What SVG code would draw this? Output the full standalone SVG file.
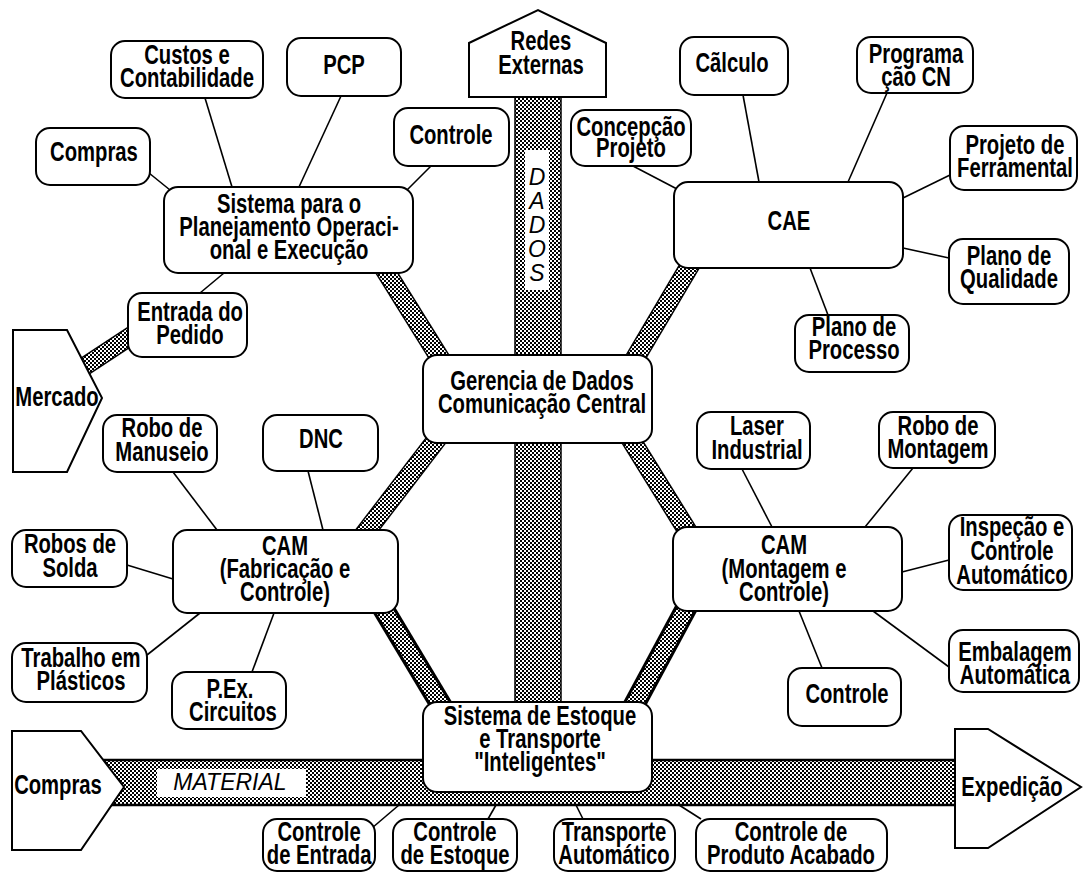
<svg xmlns="http://www.w3.org/2000/svg" width="1084" height="873" viewBox="0 0 1084 873">
  <defs>
    <pattern id="hatch" width="4" height="4" patternUnits="userSpaceOnUse">
      <rect width="4" height="4" fill="#fff"/>
      <rect width="2" height="2" fill="#000"/>
      <rect x="2" y="2" width="2" height="2" fill="#000"/>
    </pattern>
    <style>
      .box { fill: #fff; stroke: #000; stroke-width: 2; }
      .t { font-family: "Liberation Sans", Arial, sans-serif; font-weight: bold; font-size: 27px; text-anchor: middle; fill: #000;
           transform-box: fill-box; transform-origin: center; transform: scaleX(0.75); }
      .it { font-family: "Liberation Sans", Arial, sans-serif; font-style: italic; font-size: 23px; text-anchor: middle; fill: #000; }
      .link { stroke: #000; stroke-width: 1.6; fill: none; }
      .edge { stroke: #000; fill: none; }
      .fill { stroke: url(#hatch); fill: none; }
    </style>
  </defs>
  <rect width="1084" height="873" fill="#fff"/>

  <!-- thick data / material bands -->
  <g id="bands">
    <rect x="515" y="97" width="46" height="606" fill="url(#hatch)" stroke="#000" stroke-width="1.5"/>
    <rect x="525" y="150" width="24" height="140" fill="#fff"/>
    <text class="it" font-size="25"><tspan x="537" y="185">D</tspan><tspan x="537" y="209">A</tspan><tspan x="537" y="233">D</tspan><tspan x="537" y="257">O</tspan><tspan x="537" y="281">S</tspan></text>

    <!-- hub links to central data management -->
    <line class="edge" stroke-width="20" x1="375" y1="254" x2="451" y2="376"/>
    <line class="fill" stroke-width="17" x1="375" y1="254" x2="451" y2="376"/>
    <line class="edge" stroke-width="20" x1="702" y1="245" x2="624" y2="377"/>
    <line class="fill" stroke-width="17" x1="702" y1="245" x2="624" y2="377"/>
    <line class="edge" stroke-width="20" x1="450" y1="422" x2="352" y2="550"/>
    <line class="fill" stroke-width="17" x1="450" y1="422" x2="352" y2="550"/>
    <line class="edge" stroke-width="20" x1="620" y1="422" x2="698" y2="548"/>
    <line class="fill" stroke-width="17" x1="620" y1="422" x2="698" y2="548"/>

    <!-- production links to stock & transport -->
    <line class="edge" stroke-width="22" x1="372" y1="590" x2="450" y2="720"/>
    <line class="fill" stroke-width="16" x1="372" y1="590" x2="450" y2="720"/>
    <line class="edge" stroke-width="22" x1="696" y1="590" x2="626" y2="720"/>
    <line class="fill" stroke-width="16" x1="696" y1="590" x2="626" y2="720"/>

    <!-- market to order entry -->
    <line class="edge" stroke-width="19" x1="70" y1="376" x2="140" y2="330"/>
    <line class="fill" stroke-width="16" x1="70" y1="376" x2="140" y2="330"/>

    <!-- material flow -->
    <rect x="90" y="760" width="866" height="45" fill="url(#hatch)" stroke="#000" stroke-width="2.5"/>
    <rect x="157" y="769" width="149" height="28" fill="#fff"/>
    <text class="it" x="230" y="790">MATERIAL</text>
  </g>

  <!-- thin connectors -->
  <g id="connectors" class="link">
    <line x1="205" y1="98" x2="232" y2="187"/>
    <line x1="341" y1="96" x2="299" y2="187"/>
    <line x1="149" y1="173" x2="170" y2="190"/>
    <line x1="431" y1="166" x2="407" y2="190"/>
    <line x1="200" y1="293" x2="224" y2="273"/>
    <line x1="633" y1="166" x2="677" y2="189"/>
    <line x1="743" y1="95" x2="759" y2="182"/>
    <line x1="887" y1="93" x2="848" y2="182"/>
    <line x1="950" y1="175" x2="903" y2="198"/>
    <line x1="949" y1="258" x2="903" y2="248"/>
    <line x1="828" y1="315" x2="810" y2="268"/>
    <line x1="173" y1="472" x2="217" y2="530"/>
    <line x1="308" y1="471" x2="323" y2="530"/>
    <line x1="127" y1="565" x2="173" y2="579"/>
    <line x1="147" y1="655" x2="200" y2="613"/>
    <line x1="252" y1="672" x2="274" y2="613"/>
    <line x1="742" y1="469" x2="772" y2="527"/>
    <line x1="913" y1="468" x2="865" y2="527"/>
    <line x1="949" y1="560" x2="902" y2="572"/>
    <line x1="949" y1="667" x2="873" y2="611"/>
    <line x1="822" y1="668" x2="799" y2="611"/>
    <line x1="372" y1="828" x2="399" y2="805"/>
    <line x1="488" y1="819" x2="496" y2="805"/>
    <line x1="583" y1="819" x2="576" y2="805"/>
    <line x1="701" y1="819" x2="679" y2="805"/>
  </g>

  <!-- planning cluster -->
  <g id="custos"><rect class="box" x="111" y="41" width="152" height="57" rx="14"/><text class="t"><tspan x="187" y="64">Custos e</tspan><tspan x="187" y="87">Contabilidade</tspan></text></g>
  <g id="pcp"><rect class="box" x="287" y="38" width="114" height="58" rx="14"/><text class="t" x="344" y="74">PCP</text></g>
  <g id="compras-top"><rect class="box" x="36" y="128" width="114" height="57" rx="14"/><text class="t" x="94" y="161">Compras</text></g>
  <g id="controle-top"><rect class="box" x="394" y="108" width="115" height="58" rx="14"/><text class="t" x="451" y="144">Controle</text></g>
  <g id="planejamento"><rect class="box" x="164" y="187" width="249" height="86" rx="14"/><text class="t"><tspan x="289" y="213">Sistema para o</tspan><tspan x="289" y="236">Planejamento Operaci-</tspan><tspan x="289" y="259">onal e Execução</tspan></text></g>
  <g id="entrada-pedido"><rect class="box" x="128" y="293" width="119" height="64" rx="14"/><text class="t"><tspan x="190" y="321">Entrada do</tspan><tspan x="190" y="344">Pedido</tspan></text></g>

  <!-- external network -->
  <g id="redes"><polygon class="box" points="469,97 469,43 538,10 606,43 606,97"/><text class="t"><tspan x="541" y="50">Redes</tspan><tspan x="541" y="74">Externas</tspan></text></g>

  <!-- central hub -->
  <g id="gerencia"><rect class="box" x="423" y="355" width="229" height="88" rx="14"/><text class="t"><tspan x="542" y="390">Gerencia de Dados</tspan><tspan x="542" y="413">Comunicação Central</tspan></text></g>

  <!-- engineering cluster -->
  <g id="calculo"><rect class="box" x="680" y="37" width="108" height="58" rx="14"/><text class="t" x="732" y="72">Cãlculo</text></g>
  <g id="programacao"><rect class="box" x="857" y="37" width="116" height="56" rx="14"/><text class="t"><tspan x="916" y="63">Programa</tspan><tspan x="916" y="86">ção CN</tspan></text></g>
  <g id="concepcao"><rect class="box" x="571" y="110" width="120" height="56" rx="14"/><text class="t"><tspan x="631" y="136">Concepção</tspan><tspan x="631" y="157">Projeto</tspan></text></g>
  <g id="ferramental"><rect class="box" x="950" y="126" width="127" height="64" rx="14"/><text class="t"><tspan x="1015" y="154">Projeto de</tspan><tspan x="1015" y="177">Ferramental</tspan></text></g>
  <g id="cae"><rect class="box" x="674" y="182" width="229" height="86" rx="14"/><text class="t" x="789" y="230">CAE</text></g>
  <g id="qualidade"><rect class="box" x="949" y="239" width="120" height="65" rx="14"/><text class="t"><tspan x="1009" y="265">Plano de</tspan><tspan x="1009" y="288">Qualidade</tspan></text></g>
  <g id="processo"><rect class="box" x="795" y="315" width="114" height="57" rx="14"/><text class="t"><tspan x="854" y="336">Plano de</tspan><tspan x="854" y="359">Processo</tspan></text></g>

  <!-- market -->
  <g id="mercado"><polygon class="box" points="13,330 67,330 102,398 67,472 13,472"/><text class="t" x="57" y="406">Mercado</text></g>

  <!-- manufacturing cluster -->
  <g id="robo-manuseio"><rect class="box" x="103" y="415" width="114" height="57" rx="14"/><text class="t"><tspan x="162" y="437">Robo de</tspan><tspan x="162" y="461">Manuseio</tspan></text></g>
  <g id="dnc"><rect class="box" x="263" y="415" width="115" height="56" rx="14"/><text class="t" x="321" y="448">DNC</text></g>
  <g id="robos-solda"><rect class="box" x="12" y="530" width="115" height="57" rx="14"/><text class="t"><tspan x="70" y="553">Robos de</tspan><tspan x="70" y="577">Solda</tspan></text></g>
  <g id="cam-fabricacao"><rect class="box" x="173" y="530" width="225" height="83" rx="14"/><text class="t"><tspan x="285" y="555">CAM</tspan><tspan x="285" y="578">(Fabricação e</tspan><tspan x="285" y="601">Controle)</tspan></text></g>
  <g id="plasticos"><rect class="box" x="12" y="643" width="135" height="59" rx="14"/><text class="t"><tspan x="81" y="667">Trabalho em</tspan><tspan x="81" y="690">Plásticos</tspan></text></g>
  <g id="circuitos"><rect class="box" x="172" y="672" width="114" height="57" rx="14"/><text class="t"><tspan x="229" y="698">P.Ex.</tspan><tspan x="233" y="721">Circuitos</tspan></text></g>

  <!-- assembly cluster -->
  <g id="laser"><rect class="box" x="697" y="412" width="113" height="57" rx="14"/><text class="t"><tspan x="757" y="435">Laser</tspan><tspan x="757" y="459">Industrial</tspan></text></g>
  <g id="robo-montagem"><rect class="box" x="879" y="412" width="116" height="56" rx="14"/><text class="t"><tspan x="938" y="435">Robo de</tspan><tspan x="938" y="458">Montagem</tspan></text></g>
  <g id="cam-montagem"><rect class="box" x="673" y="527" width="229" height="84" rx="14"/><text class="t"><tspan x="784" y="554">CAM</tspan><tspan x="784" y="578">(Montagem e</tspan><tspan x="784" y="601">Controle)</tspan></text></g>
  <g id="inspecao"><rect class="box" x="949" y="515" width="123" height="75" rx="14"/><text class="t"><tspan x="1012" y="536">Inspeção e</tspan><tspan x="1012" y="560">Controle</tspan><tspan x="1012" y="584">Automático</tspan></text></g>
  <g id="embalagem"><rect class="box" x="949" y="630" width="130" height="62" rx="14"/><text class="t"><tspan x="1015" y="661">Embalagem</tspan><tspan x="1015" y="684">Automática</tspan></text></g>
  <g id="controle-montagem"><rect class="box" x="788" y="668" width="113" height="58" rx="14"/><text class="t" x="847" y="703">Controle</text></g>

  <!-- stock & transport -->
  <g id="estoque"><rect class="box" x="423" y="702" width="229" height="90" rx="14"/><text class="t"><tspan x="540" y="725">Sistema de Estoque</tspan><tspan x="540" y="748">e Transporte</tspan><tspan x="540" y="771">"Inteligentes"</tspan></text></g>
  <g id="compras-material"><polygon class="box" points="12,731 81,731 124,787 81,850 12,850"/><text class="t" x="58" y="794">Compras</text></g>
  <g id="expedicao"><polygon class="box" points="955,729 988,729 1081,787 988,848 955,848"/><text class="t" x="1012" y="796">Expedição</text></g>
  <g id="controle-entrada"><rect class="box" x="263" y="819" width="112" height="52" rx="14"/><text class="t"><tspan x="319" y="841">Controle</tspan><tspan x="319" y="864">de Entrada</tspan></text></g>
  <g id="controle-estoque"><rect class="box" x="393" y="819" width="124" height="52" rx="14"/><text class="t"><tspan x="455" y="841">Controle</tspan><tspan x="455" y="864">de Estoque</tspan></text></g>
  <g id="transporte"><rect class="box" x="554" y="819" width="121" height="52" rx="14"/><text class="t"><tspan x="614" y="841">Transporte</tspan><tspan x="614" y="864">Automático</tspan></text></g>
  <g id="produto-acabado"><rect class="box" x="696" y="819" width="191" height="52" rx="14"/><text class="t"><tspan x="791" y="841">Controle de</tspan><tspan x="791" y="864">Produto Acabado</tspan></text></g>
</svg>
